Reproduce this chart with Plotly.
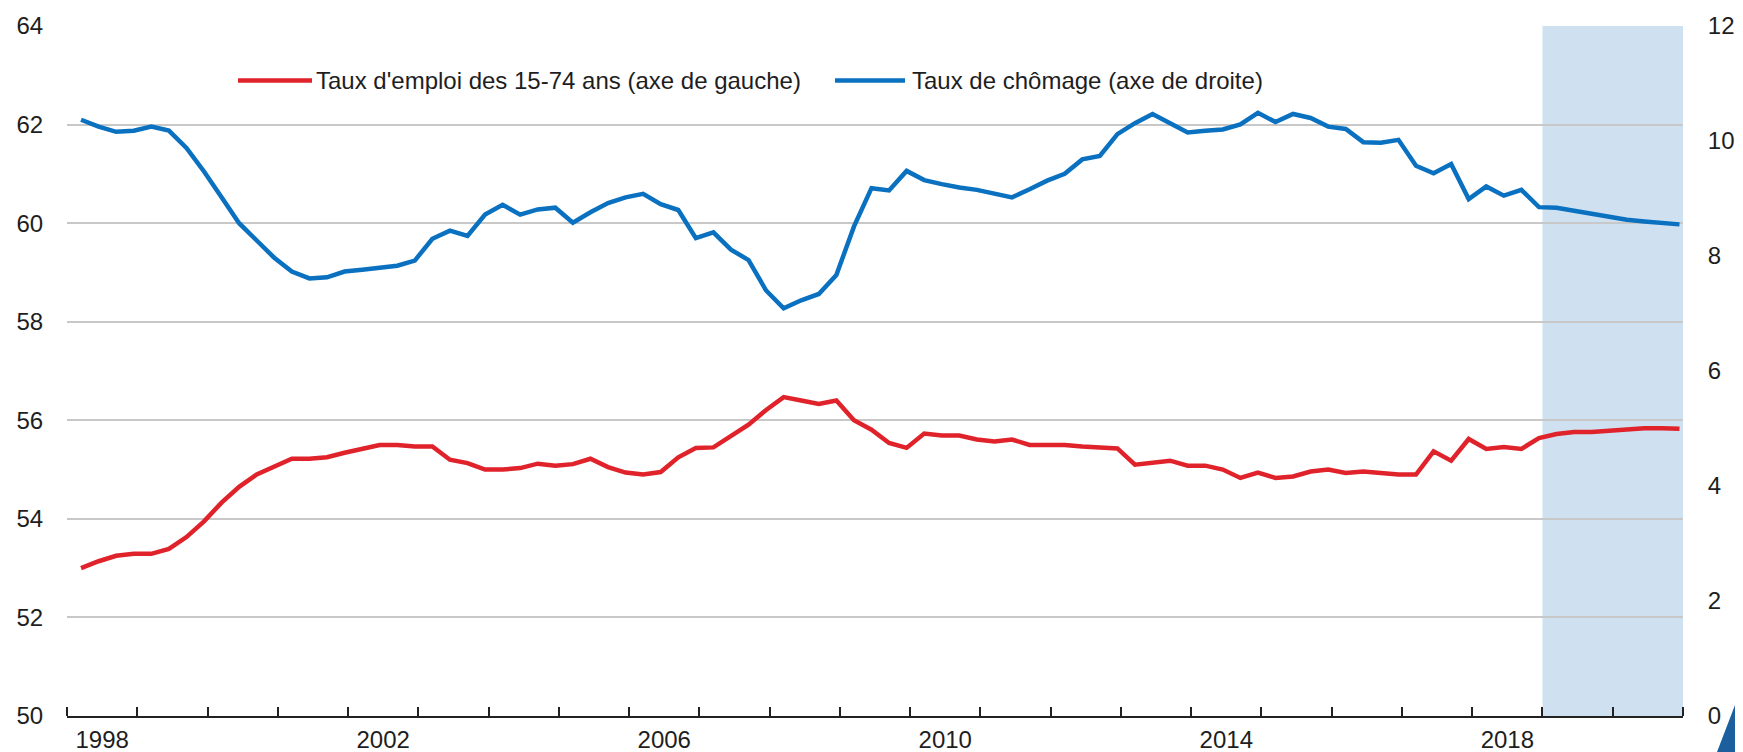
import plotly.graph_objects as go

# ---------------- data ----------------
start_year = 1998
n_quarters = 92  # 1998T1 .. 2020T4

emploi_15_74 = [
    53.00, 53.14, 53.25, 53.29, 53.29, 53.39, 53.63, 53.95, 54.33, 54.65,
    54.90, 55.06, 55.22, 55.22, 55.25, 55.34, 55.42, 55.50, 55.50, 55.47,
    55.47, 55.20, 55.13, 55.00, 55.00, 55.03, 55.12, 55.08, 55.11, 55.22,
    55.05, 54.94, 54.90, 54.95, 55.25, 55.44, 55.45, 55.67, 55.91, 56.21,
    56.47, 56.40, 56.33, 56.40, 56.00, 55.81, 55.54, 55.44, 55.73, 55.69,
    55.69, 55.61, 55.57, 55.61, 55.50, 55.50, 55.50, 55.47, 55.44, 55.43,
    55.10, 55.15, 55.18, 55.08, 55.08, 55.00, 54.83, 54.94, 54.83, 54.86,
    54.96, 55.00, 54.93, 54.96, 54.93, 54.90, 54.90, 55.37, 55.18, 55.62,
    55.42, 55.46, 55.42, 55.64, 55.72, 55.76, 55.76, 55.79, 55.83, 55.84,
    55.84, 55.83,
]

chomage = [
    10.37, 10.25, 10.16, 10.18, 10.25, 10.18, 9.88, 9.47, 9.02, 8.57,
    8.27, 7.97, 7.73, 7.61, 7.63, 7.73, 7.76, 7.79, 7.83, 7.92,
    8.30, 8.44, 8.35, 8.72, 8.89, 8.72, 8.81, 8.84, 8.58, 8.76,
    8.92, 9.02, 9.08, 8.90, 8.80, 8.31, 8.41, 8.11, 7.93, 7.40,
    7.09, 7.23, 7.34, 7.67, 8.51, 9.18, 9.14, 9.48, 9.32, 9.25,
    9.19, 9.15, 9.09, 9.02, 9.16, 9.31, 9.43, 9.68, 9.74, 10.12,
    10.31, 10.47, 10.31, 10.15, 10.18, 10.20, 10.29, 10.49, 10.33, 10.47,
    10.40, 10.25, 10.21, 9.98, 9.97, 10.02, 9.57, 9.44, 9.60, 8.99,
    9.21, 9.05, 9.15, 8.85, 8.84, 8.79, 8.73, 8.68, 8.63, 8.60,
    8.57, 8.55,
]

year_labels = ["1998", "2002", "2006", "2010", "2014", "2018"]
tick_years = list(range(1998, 2022))
left_ticks = [50, 52, 54, 56, 58, 60, 62, 64]
right_ticks = [0, 2, 4, 6, 8, 10, 12]
forecast_start = 2019

name_emploi = "Taux d'emploi des 15-74 ans (axe de gauche)"
name_chomage = "Taux de chômage (axe de droite)"

# quarterly positions on a decimal-year axis
quarters = [start_year + i // 4 + ((i % 4) + 0.8) / 4 for i in range(n_quarters)]

# ---------------- style ----------------
FONT = "Liberation Sans, Arial, sans-serif"
FS = 24
RED = "#e0232b"
BLUE = "#0a70c0"
GRID = "#c8c8c8"
TEXT = "#1e1e1e"
SHADE = "#cfe0f1"

fig = go.Figure()
fig.add_trace(go.Scatter(
    x=quarters, y=emploi_15_74, mode="lines", name=name_emploi,
    line=dict(color=RED, width=4.5), yaxis="y", showlegend=False,
))
fig.add_trace(go.Scatter(
    x=quarters, y=chomage, mode="lines", name=name_chomage,
    line=dict(color=BLUE, width=4.5), yaxis="y2", showlegend=False,
))

# projection shading
fig.add_shape(type="rect", xref="x", yref="paper",
              x0=forecast_start, x1=2021.07, y0=0, y1=1,
              fillcolor=SHADE, line=dict(width=0), layer="below")

# page offset (default body margin of the html page)
OFF = 8
L, R, T, B, W, H = 67, 60, 26, 36, 1743, 752   # target geometry in window pixels
FW, FH = W - 2 * OFF, H - OFF
ML, MT = L - OFF, T - OFF
pw, ph = W - L - R, H - T - B
MR = FW - ML - pw
MB = FH - MT - ph

def px(x):
    return (x - L) / pw

def py(y):
    return (H - B - y) / ph

legend_items = [(238, 312, 314, RED, name_emploi), (835, 905, 910, BLUE, name_chomage)]
for x0, x1, xt, col, txt in legend_items:
    fig.add_shape(type="line", xref="paper", yref="paper",
                  x0=px(x0), x1=px(x1), y0=py(80.5), y1=py(80.5),
                  line=dict(color=col, width=4.5))
    fig.add_annotation(xref="paper", yref="paper", x=px(xt), y=py(80.5),
                       text=txt, showarrow=False, xanchor="left", yanchor="middle",
                       font=dict(family=FONT, size=FS, color=TEXT))

# corner triangle decoration (bottom-right corner of the visible page)
cx, cy = W - OFF, H
fig.add_shape(type="path", xref="paper", yref="paper",
              path=f"M {px(cx - 18)} {py(cy)} L {px(cx)} {py(cy)} L {px(cx)} {py(cy - 47)} Z",
              fillcolor="#1b5f9f", line=dict(width=0))

fig.update_layout(
    width=FW, height=FH,
    margin=dict(l=ML, r=MR, t=MT, b=MB, autoexpand=False),
    paper_bgcolor="white", plot_bgcolor="white",
    font=dict(family=FONT, size=FS, color=TEXT),
    xaxis=dict(
        range=[1998, 2021], showgrid=False, zeroline=False,
        tickmode="array", tickvals=[int(y) + 0.5 for y in year_labels], ticktext=year_labels,
        ticks="", showline=True, linecolor="#222222", linewidth=2,
        ticklabelstandoff=1,
        tickfont=dict(family=FONT, size=FS, color=TEXT),
        minor=dict(tickmode="array", tickvals=tick_years, ticks="inside",
                   ticklen=9, tickwidth=2, tickcolor="#222222", showgrid=False),
    ),
    yaxis=dict(
        range=[50, 64], tickmode="array", tickvals=left_ticks,
        showgrid=True, gridcolor=GRID, gridwidth=2, zeroline=False,
        showline=False, ticks="outside", ticklen=18, tickcolor="rgba(0,0,0,0)",
        tickfont=dict(family=FONT, size=FS, color=TEXT),
    ),
    yaxis2=dict(
        range=[0, 12], tickmode="array", tickvals=right_ticks,
        overlaying="y", side="right", showgrid=False, zeroline=False,
        showline=False, ticks="outside", ticklen=19, tickcolor="rgba(0,0,0,0)",
        tickfont=dict(family=FONT, size=FS, color=TEXT),
    ),
)

fig.write_html("out.html")
